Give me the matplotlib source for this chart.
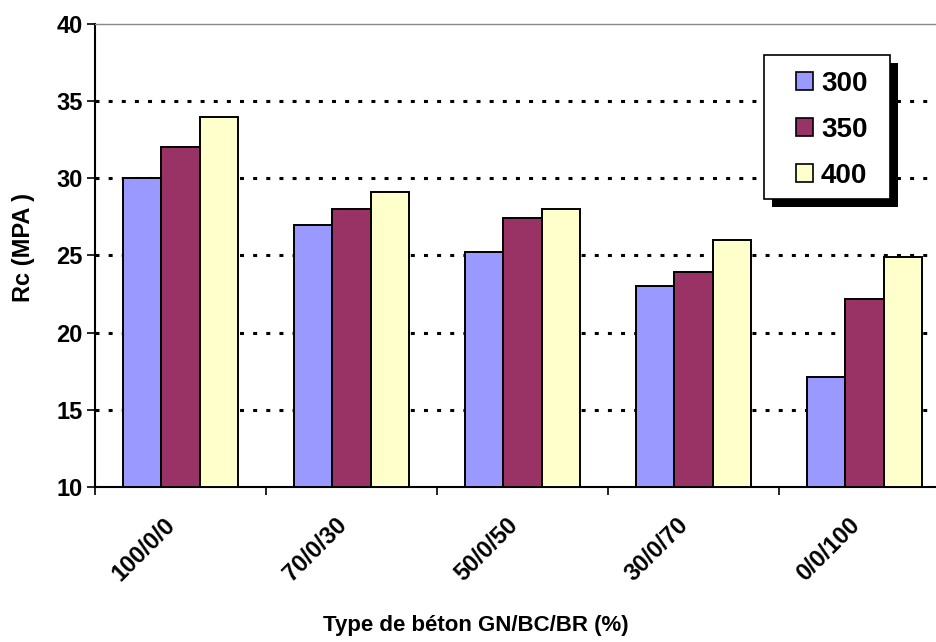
import matplotlib.pyplot as plt
from matplotlib.patches import Rectangle
from matplotlib.transforms import ScaledTranslation

# Compressive strength by concrete type and cement dosage
categories = ["100/0/0", "70/0/30", "50/0/50", "30/0/70", "0/0/100"]
series = ["300", "350", "400"]
rc_300 = [30.0, 27.0, 25.2, 23.0, 17.1]
rc_350 = [32.0, 28.0, 27.4, 23.9, 22.2]
rc_400 = [34.0, 29.1, 28.0, 26.0, 24.9]
colors = ["#9999FF", "#993366", "#FFFFCC"]

plt.rcParams['font.family'] = ['Liberation Sans Narrow', 'Liberation Sans', 'DejaVu Sans']
plt.rcParams['font.weight'] = 'bold'

fig = plt.figure(figsize=(9.36, 6.42), dpi=100)
ax = fig.add_axes([95 / 936, 155 / 642, 855 / 936, 463 / 642])

width = 0.225
x = list(range(len(categories)))
for k, (vals, name) in enumerate(zip([rc_300, rc_350, rc_400], series)):
    pos = [i + (k - 1) * width for i in x]
    ax.bar(pos, [v - 10 for v in vals], width, bottom=10, color=colors[k],
           edgecolor="black", linewidth=1.4, label=name, zorder=3)

ax.set_xlim(-0.5, len(categories) - 0.5)
ax.set_ylim(10, 40)
ax.set_yticks([10, 15, 20, 25, 30, 35, 40])
ax.tick_params(axis='y', direction='out', length=6, width=1.2, labelsize=17, pad=3)
ax.set_xticks(x)
ax.set_xticklabels(categories, rotation=45, ha='right', rotation_mode='anchor',
                   fontsize=17, fontweight='bold')
ax.tick_params(axis='x', which='major', length=0, pad=19)
ax.set_xticks([i - 0.5 for i in x] + [len(x) - 0.5], minor=True)
ax.tick_params(axis='x', which='minor', direction='out', length=6, width=1.2)
shift = ScaledTranslation(-12 / 72, 0, fig.dpi_scale_trans)
for lbl in ax.get_xticklabels():
    lbl.set_transform(lbl.get_transform() + shift)

for yv in [15, 20, 25, 30, 35]:
    ax.axhline(yv, color="black", linewidth=2.2, linestyle=(0, (1.3, 3)), zorder=1)

ax.spines['left'].set_linewidth(1.5)
ax.spines['bottom'].set_linewidth(1.5)
ax.spines['top'].set_color('#888888')
ax.spines['top'].set_linewidth(1)
ax.spines['right'].set_color('#888888')

ax.set_ylabel("Rc (MPA )", fontsize=17, fontweight='bold')
ax.yaxis.set_label_coords((35 - 95) / 855, (487 - 247) / 463)
ax.set_xlabel("Type de béton GN/BC/BR (%)", fontsize=16, fontweight='bold')
ax.xaxis.set_label_coords((476 - 95) / 855, -(615 - 487) / 463)

# legend entries without frame; the boxed panel with drop shadow is drawn below
leg = ax.legend(loc='upper left', bbox_to_anchor=((796 - 95) / 855, (487 - 71) / 463),
                fontsize=20, frameon=False, handlelength=0.6, handleheight=0.6,
                handletextpad=0.3, labelspacing=0.72, borderpad=0, borderaxespad=0)
for h in leg.legend_handles:
    h.set_linewidth(1.2)
leg.set_zorder(6)

# legend panel (pixel coordinates, origin at bottom left)
box_x, box_y, box_w, box_h = 764, 642 - 55 - 144, 126, 144
ax.add_artist(Rectangle((box_x + 8, box_y - 8), box_w, box_h, transform=None,
                        facecolor="black", edgecolor="none", zorder=4))
ax.add_artist(Rectangle((box_x, box_y), box_w, box_h, transform=None,
                        facecolor="white", edgecolor="black", linewidth=1.2, zorder=5))

fig.savefig("out.png", dpi=100)
